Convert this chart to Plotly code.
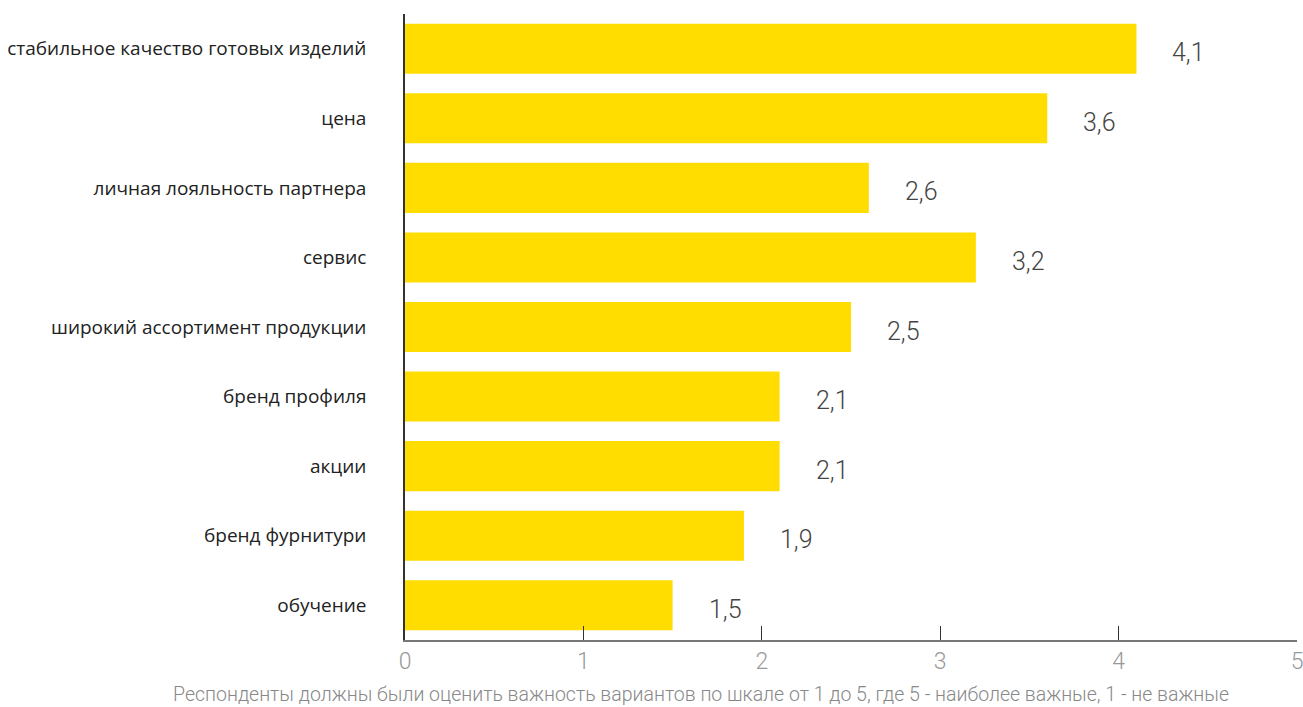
import plotly.graph_objects as go

categories = [
    "стабильное качество готовых изделий",
    "цена",
    "личная лояльность партнера",
    "сервис",
    "широкий ассортимент продукции",
    "бренд профиля",
    "акции",
    "бренд фурнитури",
    "обучение",
]
values = [4.1, 3.6, 2.6, 3.2, 2.5, 2.1, 2.1, 1.9, 1.5]
value_labels = ["4,1", "3,6", "2,6", "3,2", "2,5", "2,1", "2,1", "1,9", "1,5"]
x_ticks = [0, 1, 2, 3, 4, 5]
note = "Респонденты должны были оценить важность вариантов по шкале от 1 до 5, где 5 - наиболее важные, 1 - не важные"

fig = go.Figure()
fig.add_trace(go.Bar(
    x=values, y=categories, orientation="h",
    marker=dict(color="#FFDD00", line=dict(width=0)),
    hoverinfo="skip",
))

for c, v, t in zip(categories, values, value_labels):
    fig.add_annotation(
        x=v, y=c, text=t, showarrow=False, xanchor="left", yanchor="middle",
        xshift=34, yshift=-4,
        font=dict(family="Roboto", size=25, color="#444444", weight=300),
    )

fig.add_annotation(
    x=0.332, y=0, xref="paper", yref="paper", xanchor="center", yanchor="top",
    yshift=-41, text=note, showarrow=False,
    font=dict(family="Roboto", size=19.5, color="#888888", weight=300),
)

fig.update_layout(
    width=1303, height=707,
    margin=dict(l=405, r=6, t=14, b=67, autoexpand=False),
    plot_bgcolor="white", paper_bgcolor="white",
    bargap=0.28, showlegend=False,
)
fig.update_xaxes(
    range=[0, 5], tickvals=x_ticks, ticktext=[str(t) for t in x_ticks],
    showgrid=False, zeroline=False, automargin=False,
    showline=True, linecolor="#777777", linewidth=1.5,
    ticks="inside", ticklen=14, tickcolor="#333333", tickwidth=1,
    ticklabeloverflow="allow",
    tickfont=dict(family="Roboto", size=23, color="#999999", weight=300),
    fixedrange=True,
)
fig.update_yaxes(
    autorange="reversed", showgrid=False, zeroline=False, automargin=False,
    showline=True, linecolor="#333333", linewidth=1.5,
    ticks="", ticklabelstandoff=33,
    tickfont=dict(family="Open Sans", size=19, color="#222222"),
    fixedrange=True,
)

fig.write_html(
    "out.html",
    config={"displayModeBar": False},
    post_script="document.body.style.margin='0';document.body.style.overflow='hidden';",
)
